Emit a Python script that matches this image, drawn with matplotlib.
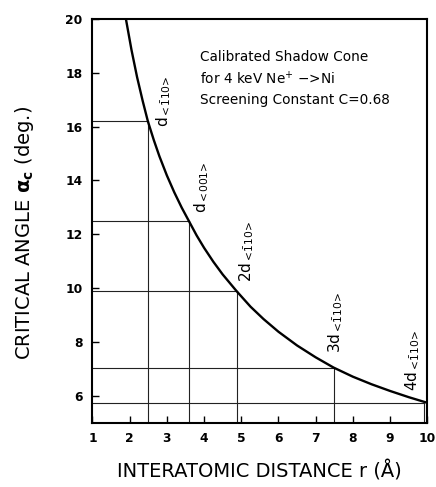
import matplotlib
matplotlib.use("Agg")
import matplotlib.pyplot as plt

# shadow cone curve, values estimated from the figure
r_curve = [1.90, 2.05, 2.20, 2.35, 2.49, 2.65, 2.80, 3.00, 3.20, 3.40,
           3.59, 3.80, 4.00, 4.25, 4.50, 4.88, 5.25, 5.60, 6.00, 6.50,
           7.00, 7.48, 8.00, 8.50, 9.00, 9.50, 10.0]
alpha_curve = [20.0, 18.85, 17.84, 16.96, 16.2, 15.5, 14.9, 14.19, 13.56, 12.99,
               12.5, 11.96, 11.5, 10.98, 10.51, 9.88, 9.31, 8.85, 8.38, 7.87,
               7.43, 7.05, 6.71, 6.43, 6.18, 5.95, 5.74]

# marked interatomic distances and their critical angles
r_marks = [2.49, 3.59, 4.88, 7.48, 9.92]
alpha_marks = [16.2, 12.5, 9.88, 7.05, 5.75]
mark_labels = [r'$\mathrm{d}_{\mathrm{<}\!\bar{1}\mathrm{10}\!\mathrm{>}}$',
               r'$\mathrm{d}_{\mathrm{<}\!\mathrm{001}\!\mathrm{>}}$',
               r'$\mathrm{2d}_{\mathrm{<}\!\bar{1}\mathrm{10}\!\mathrm{>}}$',
               r'$\mathrm{3d}_{\mathrm{<}\!\bar{1}\mathrm{10}\!\mathrm{>}}$',
               r'$\mathrm{4d}_{\mathrm{<}\!\bar{1}\mathrm{10}\!\mathrm{>}}$']
label_offsets = [(6, -6), (4, 8), (1, 9), (-7, 15), (-21, 12)]

note_lines = ['Calibrated Shadow Cone',
              r'for 4 keV Ne$^{+}$ −>Ni',
              'Screening Constant C=0.68']
note_y = [18.6, 17.8, 17.0]

xticks = list(range(1, 11))
yticks = [6, 8, 10, 12, 14, 16, 18, 20]

fig = plt.figure(figsize=(4.36, 4.87), dpi=100)
ax = fig.add_axes([0.212, 0.132, 0.768, 0.829])

# guide lines from the axes to each marked point
for r, a in zip(r_marks, alpha_marks):
    ax.plot([1, r], [a, a], color='#222222', lw=0.8)
    ax.plot([r, r], [5, a], color='#222222', lw=0.8)

ax.plot(r_curve, alpha_curve, color='black', lw=1.7)

for r, a, lab, off in zip(r_marks, alpha_marks, mark_labels, label_offsets):
    ax.annotate(lab, (r, a), xytext=off, textcoords='offset pixels',
                rotation=90, rotation_mode='anchor', ha='left', va='top',
                fontsize=11)

for txt, y in zip(note_lines, note_y):
    ax.text(3.89, y, txt, fontsize=9.8, ha='left', va='center')

ax.set_xlim(1, 10)
ax.set_ylim(5, 20)
ax.set_xticks(xticks)
ax.set_yticks(yticks)
ax.tick_params(direction='in', length=5, width=1.0, labelsize=8.8, pad=7)
for lab in ax.get_xticklabels() + ax.get_yticklabels():
    lab.set_fontweight('bold')
for s in ax.spines.values():
    s.set_linewidth(1.5)

ax.set_xlabel('INTERATOMIC DISTANCE r (Å)', fontsize=14, labelpad=11)
ax.set_ylabel(r'CRITICAL ANGLE $\mathbf{\alpha_c}$ (deg.)', fontsize=14)
ax.yaxis.set_label_coords(-0.17, 0.47)

fig.savefig('out.png', dpi=100)
